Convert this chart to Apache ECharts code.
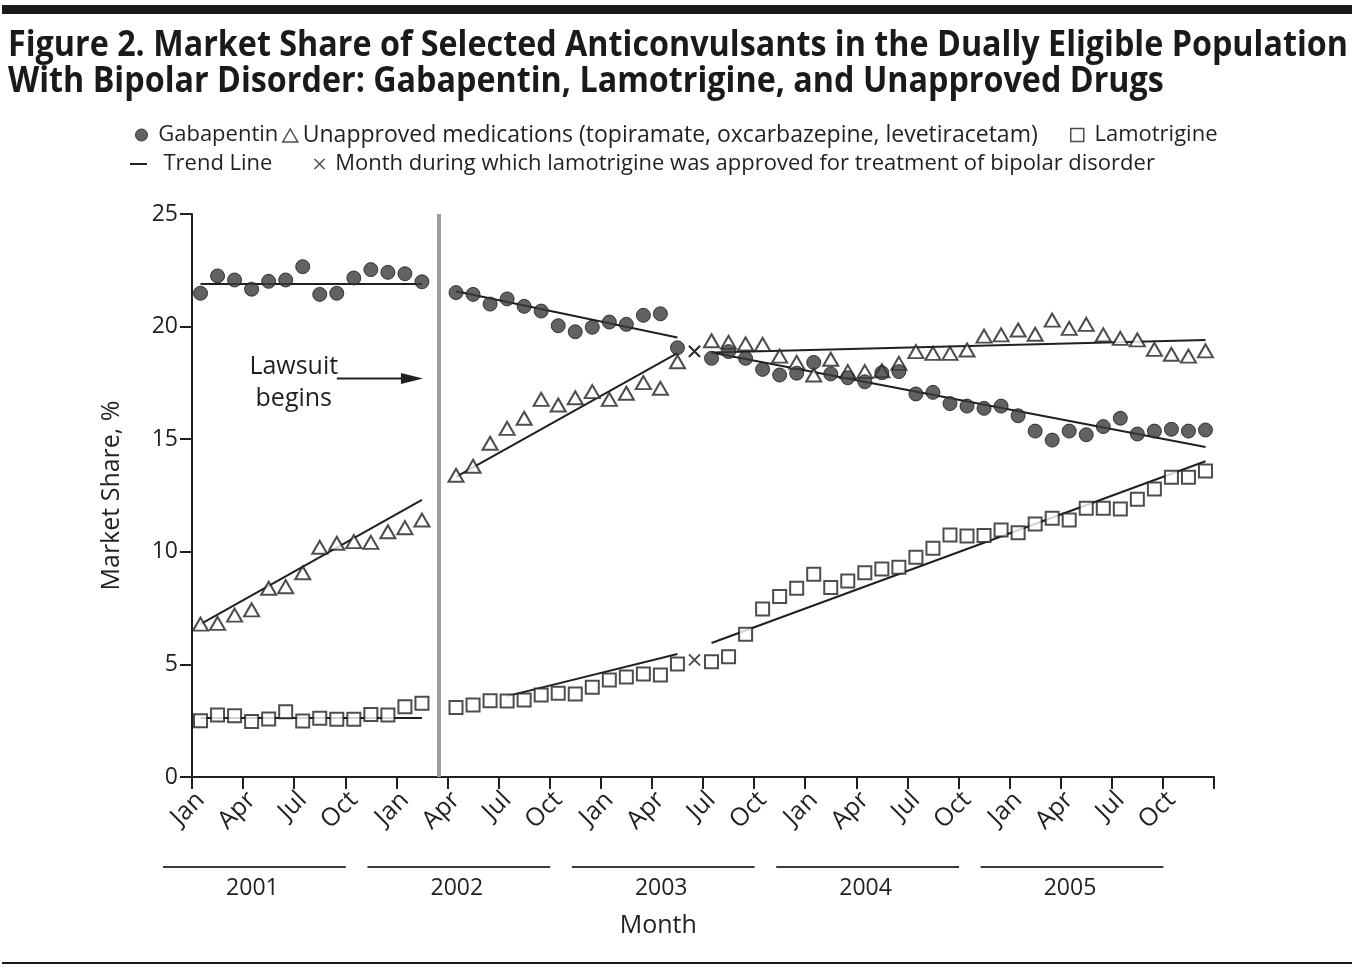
<!DOCTYPE html>
<html>
<head>
<meta charset="utf-8">
<script src="https://cdn.jsdelivr.net/npm/echarts@6.0.0/dist/echarts.min.js"></script>
<style>
html,body{margin:0;padding:0;background:#ffffff;}
#chart{width:1356px;height:971px;}
</style>
</head>
<body>
<div id="chart"></div>
<script>
// ---------- data ----------
const titleLines = [
  'Figure 2. Market Share of Selected Anticonvulsants in the Dually Eligible Population',
  'With Bipolar Disorder: Gabapentin, Lamotrigine, and Unapproved Drugs'
];
const monthNames = ['Jan','Feb','Mar','Apr','May','Jun','Jul','Aug','Sep','Oct','Nov','Dec'];
const years = ['2001','2002','2003','2004','2005'];
const months = [];
years.forEach(y => monthNames.forEach(m => months.push(m + ' ' + y)));

const yTicks = [0, 5, 10, 15, 20, 25];

const nameGabapentin = 'Gabapentin';
const nameUnapproved = 'Unapproved medications (topiramate, oxcarbazepine, levetiracetam)';
const nameLamotrigine = 'Lamotrigine';
const nameTrend = 'Trend Line';
const nameApproval = 'Month during which lamotrigine was approved for treatment of bipolar disorder';

// Jan 2001 .. Dec 2005 (null = no point plotted that month)
const gabapentin = [
  21.48, 22.25, 22.07, 21.66, 22.01, 22.07, 22.66, 21.43, 21.48, 22.16, 22.53, 22.41, 22.35, 21.99,
  null,
  21.51, 21.43, 21.00, 21.23, 20.90, 20.69, 20.04, 19.77, 19.97, 20.20, 20.10, 20.50, 20.57, 19.06,
  null,
  18.59, 18.89, 18.59, 18.10, 17.85, 17.93, 18.41, 17.90, 17.73, 17.55, 17.95, 18.00, 17.01, 17.08, 16.58,
  16.47, 16.37, 16.47, 16.04, 15.36, 14.96, 15.36, 15.20, 15.56, 15.93, 15.23, 15.36, 15.44, 15.36, 15.41
];
const unapproved = [
  6.79, 6.82, 7.19, 7.42, 8.38, 8.45, 9.07, 10.20, 10.38, 10.45, 10.42, 10.89, 11.07, 11.41,
  null,
  13.40, 13.80, 14.82, 15.48, 15.93, 16.77, 16.52, 16.84, 17.11, 16.77, 17.04, 17.51, 17.26, 18.44,
  null,
  19.37, 19.30, 19.23, 19.21, 18.69, 18.41, 17.85, 18.55, 18.00, 18.00, 18.04, 18.37, 18.89, 18.81, 18.81,
  18.96, 19.58, 19.63, 19.85, 19.66, 20.29, 19.92, 20.10, 19.63, 19.48, 19.41, 18.99, 18.77, 18.69, 18.92
];
const lamotrigine = [
  2.50, 2.75, 2.72, 2.46, 2.58, 2.90, 2.49, 2.61, 2.56, 2.56, 2.78, 2.75, 3.12, 3.27,
  null,
  3.09, 3.20, 3.39, 3.37, 3.42, 3.64, 3.72, 3.69, 3.98, 4.31, 4.44, 4.57, 4.53, 5.02,
  null,
  5.12, 5.34, 6.34, 7.46, 8.01, 8.38, 9.00, 8.42, 8.70, 9.07, 9.24, 9.31, 9.76, 10.16, 10.75,
  10.70, 10.72, 10.97, 10.85, 11.23, 11.49, 11.41, 11.93, 11.93, 11.90, 12.33, 12.79, 13.31, 13.31, 13.59
];

// month of approval (x markers)
const approvalMonth = 'Jun 2003';
const approvalValues = [18.9, 18.9, 5.2];

// trend line segments: [start, end]
const trendGabapentin = [
  [['Jan 2001', 21.89], ['Feb 2002', 21.89]],
  [['Apr 2002', 21.57], ['May 2003', 19.52]],
  [['Jul 2003', 18.85], ['Dec 2005', 14.65]]
];
const trendUnapproved = [
  [['Jan 2001', 6.79], ['Feb 2002', 12.31]],
  [['Apr 2002', 13.33], ['May 2003', 18.82]],
  [['Jul 2003', 18.85], ['Dec 2005', 19.40]]
];
const trendLamotrigine = [
  [['Jan 2001', 2.62], ['Feb 2002', 2.62]],
  [['Jul 2002', 3.59], ['May 2003', 5.46]],
  [['Jul 2003', 5.95], ['Dec 2005', 14.02]]
];

// lawsuit annotation
const lawsuitMonth = 'Mar 2002';
const lawsuitText = 'Lawsuit\nbegins';
const lawsuitArrow = { from: 'Sep 2001', to: 'Feb 2002', level: 17.7 };

// ---------- chart ----------
const ink = '#231f20';
const FONT = '"Open Sans", "Noto Sans", "DejaVu Sans", sans-serif';
const chart = echarts.init(document.getElementById('chart'), null, { renderer: 'canvas' });

const series = [];
[trendGabapentin, trendUnapproved, trendLamotrigine].forEach(segs => {
  segs.forEach(seg => {
    series.push({
      name: nameTrend, type: 'line', data: seg, symbol: 'none', showSymbol: false,
      lineStyle: { color: ink, width: 2 }, itemStyle: { color: ink },
      z: 2, silent: true, animation: false
    });
  });
});
series.push({
  name: nameLamotrigine, type: 'scatter', data: lamotrigine, symbol: 'rect', symbolSize: 13,
  itemStyle: { color: '#ffffff', borderColor: ink, borderWidth: 2 }, z: 3, animation: false
});
series.push({
  name: nameUnapproved, type: 'scatter', data: unapproved, symbol: 'triangle', symbolSize: [15, 13],
  itemStyle: { color: '#ffffff', borderColor: ink, borderWidth: 2 }, z: 4, animation: false
});
series.push({
  name: nameGabapentin, type: 'scatter', data: gabapentin, symbol: 'circle', symbolSize: 14,
  itemStyle: { color: '#3b3b3b', borderColor: '#1a1a1a', borderWidth: 1 }, z: 5, animation: false,
  markLine: {
    silent: true, symbol: 'none', animation: false,
    label: { show: false },
    lineStyle: { color: '#9d9d9d', width: 4, type: 'solid' },
    data: [{ xAxis: lawsuitMonth }]
  }
});
series.push({
  name: nameApproval, type: 'scatter',
  data: approvalValues.map(v => [approvalMonth, v]),
  symbol: 'path://M0,0L10,10M10,0L0,10', symbolSize: 11,
  itemStyle: { color: 'none', borderColor: ink, borderWidth: 2 }, z: 6, animation: false
});

function oneLegend(name, left, top, w, h, itemStyle, icon, pad, fs) {
  const d = { name: name, itemStyle: itemStyle };
  if (icon) d.icon = icon;
  return {
    left: left, top: top, orient: 'horizontal', itemWidth: w, itemHeight: h,
    selectedMode: false, padding: 0, textStyle: { fontFamily: FONT, fontSize: fs, color: ink },
    formatter: n => pad + n, data: [d]
  };
}

const option = {
  backgroundColor: '#ffffff',
  animation: false,
  textStyle: { fontFamily: FONT },
  grid: { left: 192, right: 142, top: 214, bottom: 194, containLabel: false },
  legend: [
    oneLegend(nameGabapentin, 135, 124, 12, 12, { color: '#3b3b3b', borderColor: '#1a1a1a', borderWidth: 1 }, 'circle', ' ', 22),
    oneLegend(nameUnapproved, 282, 124, 15, 13, { color: '#ffffff', borderColor: ink, borderWidth: 1.5 }, 'triangle', '', 23),
    oneLegend(nameLamotrigine, 1070, 124, 13, 13, { color: '#ffffff', borderColor: ink, borderWidth: 1.5 }, 'rect', ' ', 22),
    oneLegend(nameTrend, 130, 153, 17, 2, { color: ink, borderWidth: 0 }, 'rect', '  ', 22),
    oneLegend(nameApproval, 312, 153, 10, 10, { color: 'none', borderColor: ink, borderWidth: 1.5 }, 'path://M0,0L10,10M10,0L0,10', ' ', 22)
  ],
  xAxis: {
    type: 'category', data: months, boundaryGap: true,
    axisLine: { lineStyle: { color: ink, width: 2 } },
    axisTick: { show: true, interval: 2, length: 12, alignWithLabel: false, lineStyle: { color: ink, width: 2 } },
    axisLabel: {
      interval: 2, rotate: 45, margin: 19, fontFamily: FONT, fontSize: 25, color: ink,
      formatter: v => v.split(' ')[0]
    },
    splitLine: { show: false }
  },
  yAxis: {
    type: 'value', min: yTicks[0], max: yTicks[yTicks.length - 1], interval: 5,
    name: 'Market Share, %', nameLocation: 'middle', nameGap: 68, nameRotate: 90,
    nameTextStyle: { fontFamily: FONT, fontSize: 25, color: ink },
    axisLine: { show: true, lineStyle: { color: ink, width: 2 } },
    axisTick: { show: true, length: 12, lineStyle: { color: ink, width: 2 } },
    axisLabel: { margin: 14, fontFamily: FONT, fontSize: 23, color: ink },
    splitLine: { show: false }
  },
  series: series
};
chart.setOption(option);

// ---------- annotations positioned via the axes ----------
function px(m) { return chart.convertToPixel({ xAxisIndex: 0 }, m); }
function py(v) { return chart.convertToPixel({ yAxisIndex: 0 }, v); }
function measure(text, font) {
  const c = document.createElement('canvas').getContext('2d');
  c.font = font; return c.measureText(text).width;
}
const titleSize = 36;
const tw = measure(titleLines[0], 'bold ' + titleSize + 'px "Open Sans"');
const tScale = tw > 0 ? Math.min(1, 1340 / tw) : 1;

const g = [];
g.push({ type: 'rect', shape: { x: 2, y: 5, width: 1350, height: 9 }, style: { fill: '#1a1a1a' }, silent: true });
g.push({ type: 'rect', shape: { x: 2, y: 962, width: 1350, height: 2 }, style: { fill: '#1a1a1a' }, silent: true });
titleLines.forEach((t, i) => {
  g.push({
    type: 'text', x: 8, y: 46 + i * 36, scaleX: tScale, silent: true,
    style: { text: t, fontFamily: '"Open Sans", sans-serif', fontSize: titleSize, fontWeight: 'bold', fill: '#1a1a1a', verticalAlign: 'middle', align: 'left' }
  });
});

// year brackets
let firstStart = null, lastEnd = null;
years.forEach(y => {
  const s = px('Jan ' + y) - 37.5;
  const e = px('Oct ' + y) - 8;
  if (firstStart === null) firstStart = s;
  lastEnd = e;
  g.push({ type: 'line', shape: { x1: s, y1: 867, x2: e, y2: 867 }, style: { stroke: '#3a3a3a', lineWidth: 2 }, silent: true });
  g.push({ type: 'text', x: (s + e) / 2 - 2, y: 888, silent: true,
    style: { text: y, fontFamily: FONT, fontSize: 23, fill: ink, align: 'center', verticalAlign: 'middle' } });
});
g.push({ type: 'text', x: (firstStart + lastEnd) / 2 - 5, y: 926, silent: true,
  style: { text: 'Month', fontFamily: FONT, fontSize: 25, fill: ink, align: 'center', verticalAlign: 'middle' } });

// lawsuit arrow + text
const ax1 = px(lawsuitArrow.from), ax2 = px(lawsuitArrow.to) + 1, ay = py(lawsuitArrow.level);
g.push({ type: 'line', shape: { x1: ax1, y1: ay, x2: ax2 - 20, y2: ay }, style: { stroke: ink, lineWidth: 2 }, silent: true });
g.push({ type: 'polygon', shape: { points: [[ax2 - 22, ay - 5.5], [ax2, ay], [ax2 - 22, ay + 5.5]] }, style: { fill: ink }, silent: true });
g.push({ type: 'text', x: ax1 - 43, y: ay + 4, silent: true,
  style: { text: lawsuitText, fontFamily: FONT, fontSize: 25, lineHeight: 32, fill: ink, align: 'center', verticalAlign: 'middle' } });

chart.setOption({ graphic: g });
</script>
</body>
</html>
